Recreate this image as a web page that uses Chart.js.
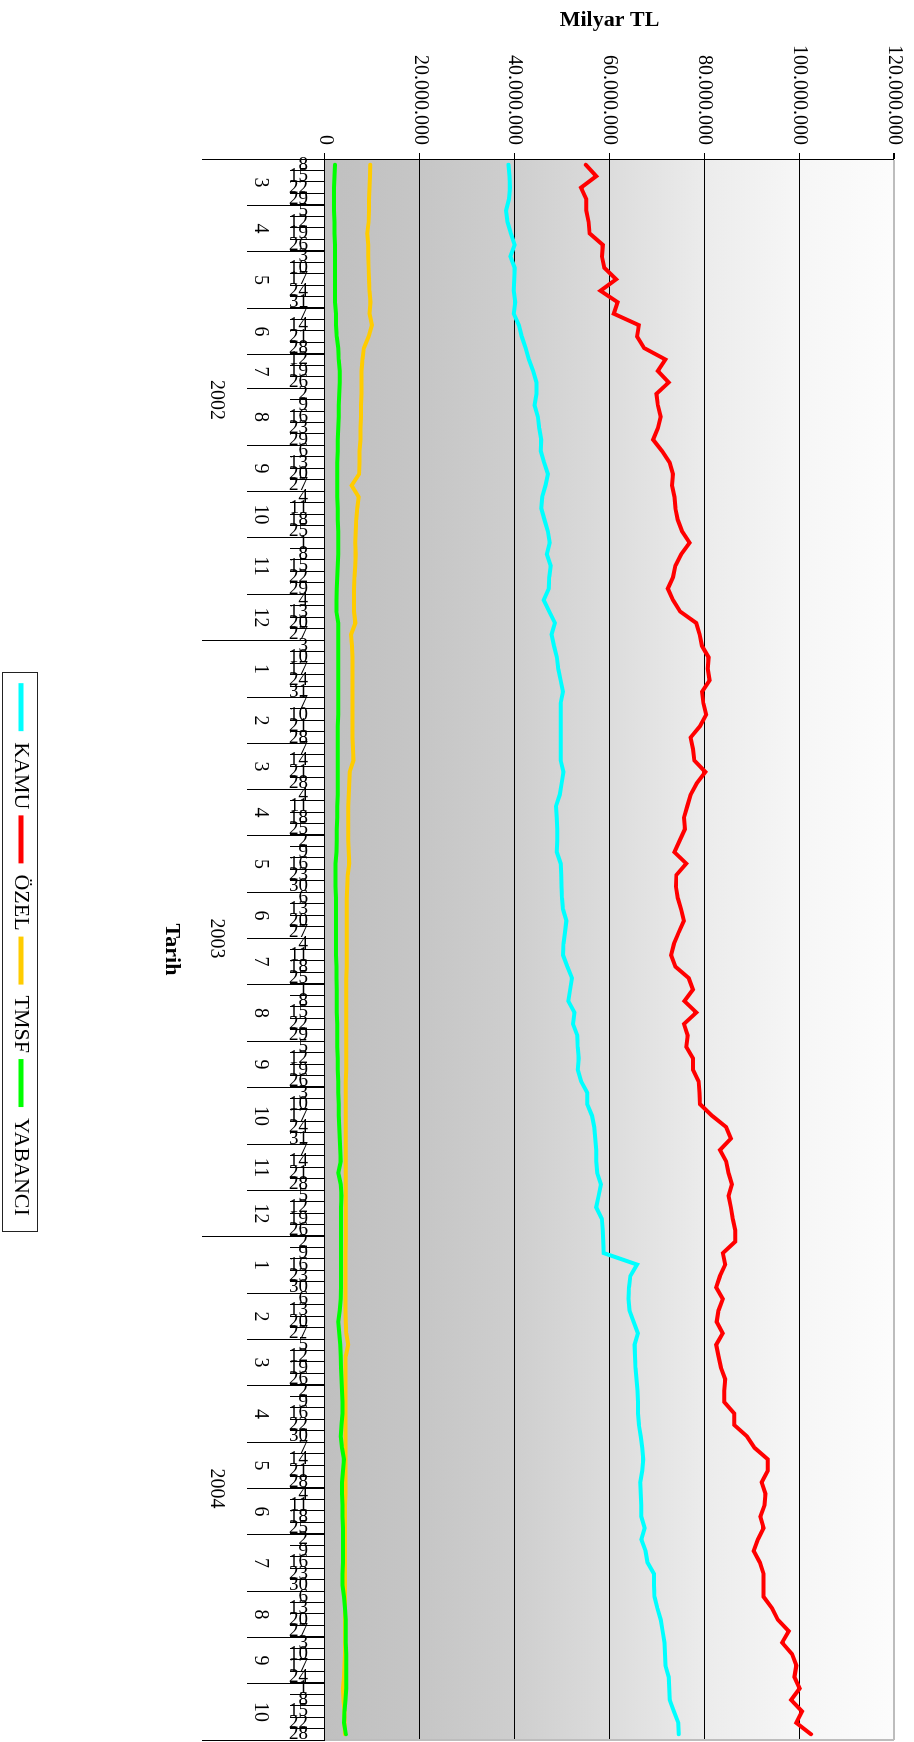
<!DOCTYPE html>
<html>
<head>
<meta charset="utf-8">
<script src="https://cdn.jsdelivr.net/npm/chart.js"></script>
<style>
  html, body { margin: 0; padding: 0; overflow: hidden; background: #fff; width: 914px; height: 1742px; }
  /* the chart is drawn lying on its side and turned a quarter clockwise */
  #wrap { position: absolute; left: 0; top: 0; width: 1742px; height: 914px;
          transform-origin: 0 0; transform: translate(914px, 0) rotate(90deg); }
  canvas { display: block; }
</style>
</head>
<body>
<div id="wrap"><canvas id="grafik" width="1742" height="914"></canvas></div>
<script>
// weekly dates (day of month), grouped by month and year below
var dayLabels = [
  '8','15','22','29', '5','12','19','26', '3','10','17','24','31', '7','14','21','28', '12','19','26',
  '2','9','16','23','29', '6','13','20','27', '4','11','18','25', '1','8','15','22','29', '4','13','20','27',
  '3','10','17','24','31', '7','10','21','28', '7','14','21','28', '4','11','18','25', '2','9','16','23','30',
  '6','13','20','27', '4','11','18','25', '1','8','15','22','29', '5','12','19','26', '3','10','17','24','31',
  '7','14','21','28', '5','12','19','26',
  '2','9','16','23','30', '6','13','20','27', '5','12','19','26', '2','9','16','22','30', '7','14','21','28',
  '4','11','18','25', '2','9','16','23','30', '6','13','20','27', '3','10','17','24', '1','8','15','22','28'
];
var monthLabels = ['3','4','5','6','7','8','9','10','11','12',
                   '1','2','3','4','5','6','7','8','9','10','11','12',
                   '1','2','3','4','5','6','7','8','9','10'];
var monthLengths = [4,4,5,4,3,5,4,4,5,4,
                    5,4,4,4,5,4,4,5,4,5,4,4,
                    5,4,4,5,4,4,5,4,4,5];
var yearLabels = ['2002', '2003', '2004'];
var yearLengths = [42, 52, 44];

// values in millions (axis shows them in full)
var kamu = [
  38.7,38.9,39.0,38.8,38.2,38.5,39.2,40.0,39.1,40.0,39.9,39.8,40.1,39.8,40.9,41.5,42.3,43.0,43.9,44.6,
  44.6,44.2,44.9,45.2,45.6,45.5,46.2,47.0,46.5,45.8,45.6,46.3,47.0,47.4,
  46.8,47.6,47.3,47.2,46.1,47.3,48.5,47.8,48.3,48.9,49.2,49.7,50.2,49.7,49.7,49.7,49.7,49.7,49.7,50.3,
  49.9,49.5,48.7,48.9,49.0,49.0,48.9,
  49.7,49.8,49.9,50.0,50.2,50.9,50.6,50.3,50.2,51.1,52.1,51.7,51.3,52.6,52.3,53.2,53.3,53.5,53.3,54.0,
  55.3,55.3,56.3,56.8,57.0,57.2,57.2,
  57.4,58.2,57.7,57.2,58.4,58.6,58.7,58.8,65.8,64.4,64.1,64.0,64.2,65.1,66.0,65.3,65.4,65.5,65.7,65.9,
  66.0,66.0,66.2,66.6,66.9,67.1,66.9,
  66.5,66.6,66.7,66.7,67.4,66.7,67.6,68.0,69.4,69.4,69.5,70.1,70.8,71.2,71.6,71.7,71.8,72.5,72.6,72.7,
  73.6,74.5,74.6
];
var ozel = [
  55.0,57.2,54.0,55.1,55.1,55.6,55.8,58.6,58.4,58.9,61.4,58.1,61.7,60.9,66.2,65.8,67.3,71.8,70.2,72.5,
  69.9,70.2,70.8,70.2,69.2,71.1,72.7,73.4,73.2,73.7,73.9,74.4,75.3,76.9,
  75.1,73.9,73.4,72.3,73.4,74.9,78.3,79.0,79.5,80.9,80.7,81.1,79.5,79.8,80.4,79.1,77.1,77.6,77.9,80.2,
  78.4,77.1,76.4,75.7,75.9,74.8,73.7,
  76.2,74.1,74.0,74.4,75.1,75.7,74.6,73.6,73.0,73.9,76.7,77.6,75.8,78.3,75.7,76.5,76.2,77.6,77.6,78.8,
  79.0,79.1,81.6,84.6,85.6,83.3,84.6,
  85.1,85.8,85.1,85.6,86.0,86.5,86.5,83.9,84.4,83.3,82.5,83.9,83.0,82.6,83.9,82.5,83.0,83.5,84.4,84.2,
  84.2,86.3,86.3,89.0,90.6,93.4,93.4,
  92.1,92.9,92.7,91.8,92.5,91.3,90.4,91.7,92.5,92.5,92.5,94.3,95.5,97.8,96.4,98.5,99.4,99.0,100.1,98.3,
  100.6,99.4,102.5
];
var tmsf = [
  9.55,9.5,9.4,9.3,9.3,9.2,8.9,9.1,9.1,9.2,9.3,9.4,9.6,9.4,9.9,9.2,8.2,7.9,7.7,7.7,
  7.7,7.6,7.6,7.5,7.5,7.3,7.3,7.2,5.6,7.1,6.8,6.6,6.5,6.4,
  6.5,6.4,6.2,6.1,6.1,6.1,6.4,5.5,5.7,5.8,5.8,5.8,5.8,5.8,5.8,5.8,5.8,5.9,6.0,5.2,
  5.1,5.0,4.9,4.9,4.9,4.9,5.0,
  5.1,4.8,4.7,4.6,4.6,4.6,4.6,4.6,4.6,4.6,4.5,4.5,4.5,4.5,4.5,4.5,4.5,4.5,4.5,4.4,
  4.4,4.4,4.4,4.4,4.4,4.4,4.4,
  4.4,4.4,4.4,4.4,4.4,4.4,4.4,4.3,4.3,4.3,4.3,4.3,4.3,4.4,4.5,4.9,4.4,4.3,4.3,4.3,
  4.3,4.3,4.3,4.3,4.3,4.3,4.3,
  4.3,4.3,4.2,4.2,4.2,4.2,4.2,4.2,4.2,4.2,4.2,4.2,4.2,4.2,4.2,4.2,4.1,4.0,3.8,3.9,
  4.1,4.1,4.2
];
var yabanci = [
  2.1,2.0,1.9,1.9,1.9,2.0,2.0,2.1,2.1,2.1,2.1,2.1,2.1,2.3,2.3,2.5,2.8,2.9,3.1,3.1,
  3.0,2.9,2.9,2.8,2.7,2.7,2.6,2.6,2.6,2.6,2.7,2.7,2.8,2.8,
  2.8,2.7,2.6,2.5,2.4,2.4,2.8,2.8,2.8,2.8,2.8,2.8,2.8,2.8,2.8,2.7,2.7,2.7,2.7,2.7,
  2.7,2.7,2.6,2.6,2.5,2.5,2.4,
  2.2,2.2,2.2,2.3,2.3,2.3,2.3,2.3,2.3,2.4,2.4,2.5,2.5,2.5,2.6,2.6,2.6,2.7,2.7,2.8,
  2.8,2.9,2.9,3.0,3.1,3.2,3.3,
  2.8,3.3,3.5,3.4,3.4,3.4,3.4,3.4,3.4,3.4,3.4,3.3,3.1,2.8,3.0,3.2,3.3,3.4,3.5,3.6,
  3.7,3.7,3.5,3.3,3.6,4.0,3.8,
  3.6,3.6,3.7,3.7,3.8,3.8,3.8,3.8,3.7,3.7,4.0,4.2,4.4,4.4,4.4,4.5,4.5,4.5,4.5,4.3,
  4.1,4.0,4.4
];
var yTicks = [0, 20, 40, 60, 80, 100, 120];

var serif = '"Liberation Serif", "Times New Roman", serif';
Chart.defaults.font.family = serif;
Chart.defaults.color = '#000';

function dots(v) {
  return String(Math.round(v * 1000000)).replace(/\B(?=(\d{3})+(?!\d))/g, '.');
}

// background, month / year rows, plot frame and legend frame
var extras = {
  id: 'extras',
  beforeDraw: function (chart) {
    var ctx = chart.ctx, a = chart.chartArea;
    var g = ctx.createLinearGradient(0, a.bottom, 0, a.top);
    g.addColorStop(0, '#c0c0c0');
    g.addColorStop(0.17, '#c6c6c6');
    g.addColorStop(0.33, '#cecece');
    g.addColorStop(0.5, '#dcdcdc');
    g.addColorStop(0.67, '#ececec');
    g.addColorStop(0.83, '#f6f6f6');
    g.addColorStop(1, '#fcfcfc');
    ctx.save();
    ctx.fillStyle = g;
    ctx.fillRect(a.left, a.top, a.right - a.left, a.bottom - a.top);
    ctx.restore();
  },
  afterDraw: function (chart) {
    var ctx = chart.ctx, a = chart.chartArea, x = chart.scales.x;
    var half = (x.getPixelForValue(1) - x.getPixelForValue(0)) / 2;
    function edge(i) { return Math.round(x.getPixelForValue(i) - half) + 0.5; }
    ctx.save();
    ctx.strokeStyle = '#000';
    ctx.lineWidth = 1;
    ctx.fillStyle = '#000';
    ctx.font = '20px ' + serif;
    ctx.textAlign = 'center';
    ctx.textBaseline = 'middle';

    var i = 0;
    monthLabels.forEach(function (m, k) {
      var x0 = edge(i), x1 = edge(i + monthLengths[k]);
      ctx.beginPath(); ctx.moveTo(x0, a.bottom); ctx.lineTo(x0, a.bottom + 78); ctx.stroke();
      ctx.fillText(m, (x0 + x1) / 2, a.bottom + 65);
      i += monthLengths[k];
    });
    i = 0;
    yearLabels.forEach(function (y, k) {
      var x0 = edge(i), x1 = edge(i + yearLengths[k]);
      ctx.beginPath(); ctx.moveTo(x0, a.bottom); ctx.lineTo(x0, a.bottom + 123); ctx.stroke();
      ctx.fillText(y, (x0 + x1) / 2, a.bottom + 109);
      i += yearLengths[k];
    });
    var xe = edge(i);
    ctx.beginPath(); ctx.moveTo(xe, a.bottom); ctx.lineTo(xe, a.bottom + 123); ctx.stroke();

    // grey frame on the far side of the plot
    ctx.strokeStyle = '#bdbdbd';
    ctx.lineWidth = 2;
    ctx.beginPath(); ctx.moveTo(a.right, a.top); ctx.lineTo(a.right, a.bottom); ctx.stroke();

    // box round the legend
    var hb = chart.legend.legendHitBoxes;
    if (hb && hb.length) {
      var l = Math.min.apply(null, hb.map(function (h) { return h.left; })) - 11;
      var r = Math.max.apply(null, hb.map(function (h) { return h.left + h.width; })) + 15;
      var cy = hb[0].top + hb[0].height / 2;
      ctx.strokeStyle = '#222';
      ctx.lineWidth = 1;
      ctx.strokeRect(Math.round(l) + 0.5, Math.round(cy - 17) + 0.5, Math.round(r - l), 35);
    }
    ctx.restore();
  }
};

var ctx = document.getElementById('grafik').getContext('2d');
var chart = new Chart(ctx, {
  type: 'line',
  data: {
    labels: dayLabels,
    datasets: [
      { label: 'KAMU', data: kamu, borderColor: '#00ffff', backgroundColor: '#00ffff', order: 3 },
      { label: 'ÖZEL', data: ozel, borderColor: '#ff0000', backgroundColor: '#ff0000', order: 2 },
      { label: 'TMSF', data: tmsf, borderColor: '#ffcc00', backgroundColor: '#ffcc00', order: 1 },
      { label: 'YABANCI', data: yabanci, borderColor: '#00ff00', backgroundColor: '#00ff00', order: 0 }
    ]
  },
  options: {
    responsive: false,
    animation: false,
    devicePixelRatio: 1,
    layout: { padding: { top: 16, right: 2, left: 0, bottom: 0 } },
    elements: {
      line: { borderWidth: 4, tension: 0, borderJoinStyle: 'miter', borderCapStyle: 'round', fill: false },
      point: { radius: 0 }
    },
    plugins: {
      tooltip: { enabled: false },
      legend: {
        position: 'bottom',
        fullSize: false,
        labels: {
          boxWidth: 48,
          boxHeight: 5,
          padding: 6,
          color: '#000',
          font: { size: 22, lineHeight: 1 },
          sort: function (a, b) { return a.datasetIndex - b.datasetIndex; },
          generateLabels: function (c) {
            return Chart.defaults.plugins.legend.labels.generateLabels(c).map(function (it) {
              it.lineWidth = 0;
              return it;
            });
          }
        }
      }
    },
    scales: {
      x: {
        type: 'category',
        offset: true,
        grid: { offset: true, drawOnChartArea: false, drawTicks: true, tickLength: 35, color: '#000', lineWidth: 1 },
        border: { color: '#000', width: 1 },
        ticks: { autoSkip: false, minRotation: 90, maxRotation: 90, padding: -18, font: { size: 19 }, color: '#000' },
        title: { display: true, text: 'Tarih', font: { size: 22, weight: 'bold' }, padding: { top: 0, bottom: 120 } },
        afterFit: function (s) { s.height = 287; }
      },
      y: {
        min: 0,
        max: 120,
        afterBuildTicks: function (s) { s.ticks = yTicks.map(function (v) { return { value: v }; }); },
        grid: {
          color: function (c) { return c.tick && c.tick.value === 120 ? '#bdbdbd' : '#000'; },
          lineWidth: function (c) { return c.tick && c.tick.value === 120 ? 2 : 1; },
          tickColor: '#000',
          tickLength: 6
        },
        border: { color: '#000', width: 1 },
        ticks: { padding: 8, font: { size: 20 }, color: '#000', callback: function (v) { return dots(v); } },
        title: { display: true, text: 'Milyar TL', font: { size: 22, weight: 'bold' }, padding: { top: 7, bottom: 0 } },
        afterFit: function (s) { s.width = 159; }
      }
    }
  },
  plugins: [extras]
});
</script>
</body>
</html>
